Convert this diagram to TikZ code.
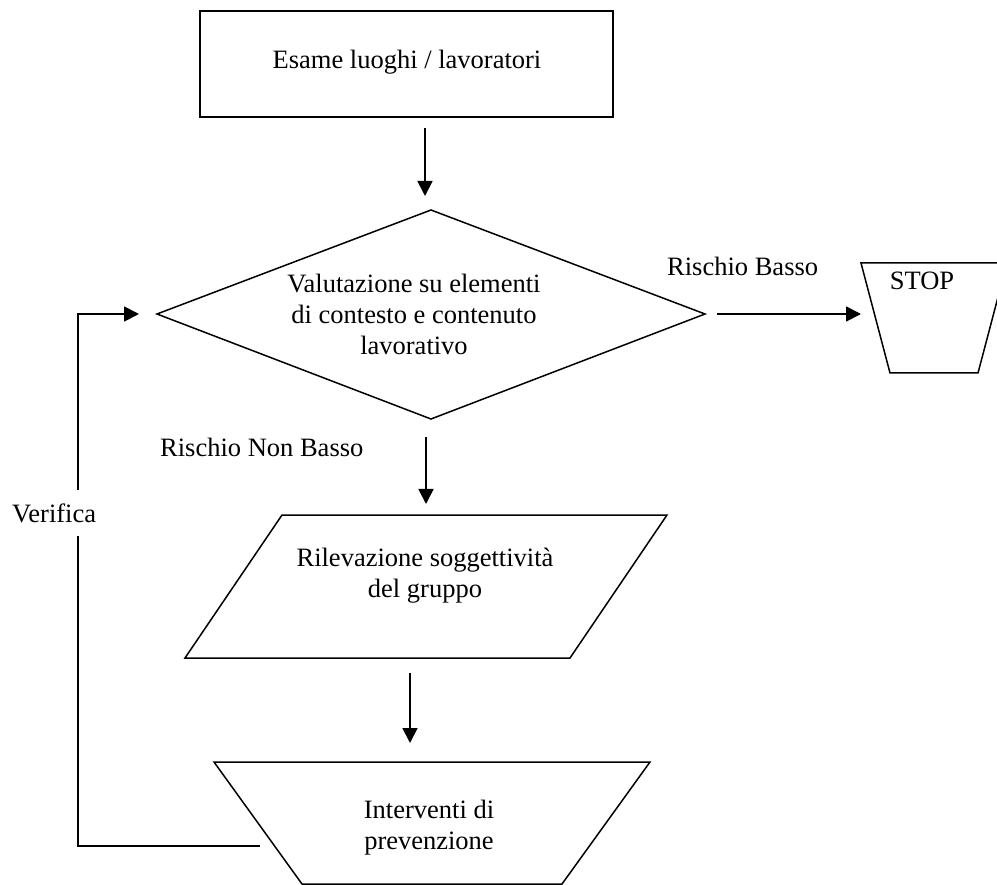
\documentclass[tikz,border=0pt]{standalone}
\usepackage{fontspec}
\setmainfont{Liberation Serif}
\usetikzlibrary{arrows.meta}
\tikzset{
  shapeline/.style={draw=black, line width=1.5pt, line join=miter},
  conn/.style={draw=black, line width=1.8pt, -{Triangle[length=15pt,width=15pt]}},
  plainconn/.style={draw=black, line width=1.5pt},
  lbl/.style={font=\fontsize{26.5}{31}\selectfont, inner sep=0pt, align=center},
}
\begin{document}
\begin{tikzpicture}[x=1pt, y=-1pt]
\useasboundingbox (0,0) rectangle (997,885);
\clip (0,0) rectangle (997,885);
% shapes
\draw[shapeline] (200,11) rectangle (613,117);
\draw[shapeline] (157,314) -- (431,210) -- (705,314) -- (431,419) -- cycle;
\draw[shapeline] (861,263) -- (1007,263) -- (978,373) -- (890,373) -- cycle;
\draw[shapeline] (282,515) -- (667,515) -- (570,658) -- (185,658) -- cycle;
\draw[shapeline] (214,762) -- (650,762) -- (562,884) -- (302,884) -- cycle;
% texts
\node[lbl] (esame) at (407,62) {Esame luoghi / lavoratori};
\node[lbl] (valut) at (414,314) {Valutazione su elementi\\di contesto e contenuto\\lavorativo};
\node[lbl] (stop) at (922,281) {STOP};
\node[lbl] (rilev) at (425,576) {Rilevazione soggettività\\del gruppo};
\node[lbl] (interv) at (429,828) {Interventi di\\prevenzione};
\node[lbl, anchor=west] (basso) at (667,266) {Rischio Basso};
\node[lbl, anchor=west] (nonbasso) at (160,447) {Rischio Non Basso};
% connector end points
\coordinate (a1s) at (425,128);
\coordinate (a1e) at (425,196);
\coordinate (a2s) at (717,314);
\coordinate (a2e) at (861,314);
\coordinate (a3s) at (426,437);
\coordinate (a3e) at (426,504);
\coordinate (a4s) at (410,673);
\coordinate (a4e) at (410,743);
\coordinate (fbs) at (260,846);
\coordinate (fbc1) at (78,846);
\coordinate (fbc2) at (78,314);
\coordinate (fbe) at (139,314);
% connectors
\draw[conn] (a1s) -- (a1e);
\draw[conn] (a2s) -- (a2e);
\draw[conn] (a3s) -- (a3e);
\draw[conn] (a4s) -- (a4e);
\draw[conn, line join=miter] (fbs) -- (fbc1) -- (fbc2) -- (fbe);
\node[lbl, fill=white, minimum height=45pt, anchor=west, inner xsep=0pt] (verifica) at (12,513) {Verifica};
\end{tikzpicture}
\end{document}
